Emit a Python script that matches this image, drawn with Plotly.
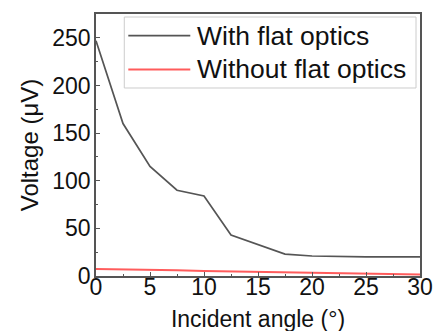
import plotly.graph_objects as go

angle = [0, 2.5, 5, 7.5, 10, 12.5, 17.5, 20, 25, 30]
with_flat = [247, 160, 115, 90, 84, 43, 23, 21, 20, 20]
without_flat = [7.3, 7.0, 6.5, 6.0, 5.3, 4.8, 4.0, 3.5, 2.6, 1.5]
series_names = ["With flat optics", "Without flat optics"]
series_colors = ["#555555", "#ff5c5c"]

FONT = "Liberation Sans, Arial, sans-serif"

fig = go.Figure()
fig.add_trace(go.Scatter(x=angle, y=with_flat, mode="lines", name=series_names[0],
                         line=dict(color=series_colors[0], width=1.7), showlegend=False))
fig.add_trace(go.Scatter(x=angle, y=without_flat, mode="lines", name=series_names[1],
                         line=dict(color=series_colors[1], width=2), showlegend=False))

axis_common = dict(showline=True, linecolor="#555555", linewidth=1.5, mirror=True,
                   showgrid=False, zeroline=False, ticks="inside", ticklen=4,
                   tickwidth=1, tickcolor="#555555", automargin=False,
                   tickfont=dict(family=FONT, size=23, color="#111111"))

fig.update_xaxes(range=[0, 30], dtick=5, tick0=0, ticklabelstandoff=-10,
                 minor=dict(ticks="inside", ticklen=2, dtick=2.5, tick0=0, tickcolor="#555555"),
                 title=dict(text="Incident angle (°)", font=dict(family=FONT, size=23, color="#111111"), standoff=12),
                 **axis_common)
fig.update_yaxes(range=[0, 275], dtick=50, tick0=0, ticklabelstandoff=-1,
                 minor=dict(ticks="inside", ticklen=2, dtick=25, tick0=0, tickcolor="#555555"),
                 title=dict(text="Voltage (μV)", font=dict(family=FONT, size=24, color="#111111"), standoff=7),
                 **axis_common)

# legend drawn as a box with sample lines and labels
shapes = [dict(type="rect", xref="paper", yref="paper", x0=0.0873, x1=0.9877, y0=0.7176, y1=0.9885,
               line=dict(color="#cccccc", width=1), fillcolor="white", layer="above")]
ys = [0.9172, 0.7882]
annotations = []
for name, col, yy, w in zip(series_names, series_colors, ys, [1.7, 2]):
    shapes.append(dict(type="line", xref="paper", yref="paper", x0=0.0997, x1=0.2910, y0=yy, y1=yy,
                       line=dict(color=col, width=w), layer="above"))
    annotations.append(dict(xref="paper", yref="paper", x=0.3045, y=yy, xanchor="left", yanchor="middle",
                            text=name, showarrow=False,
                            font=dict(family=FONT, size=26.5, color="#111111")))

# page body adds an 8px offset, so margins are compensated
fig.update_layout(width=446, height=331, margin=dict(l=88, r=34, t=6, b=63),
                  paper_bgcolor="white", plot_bgcolor="white",
                  shapes=shapes, annotations=annotations, showlegend=False)

fig.write_html("out.html")
